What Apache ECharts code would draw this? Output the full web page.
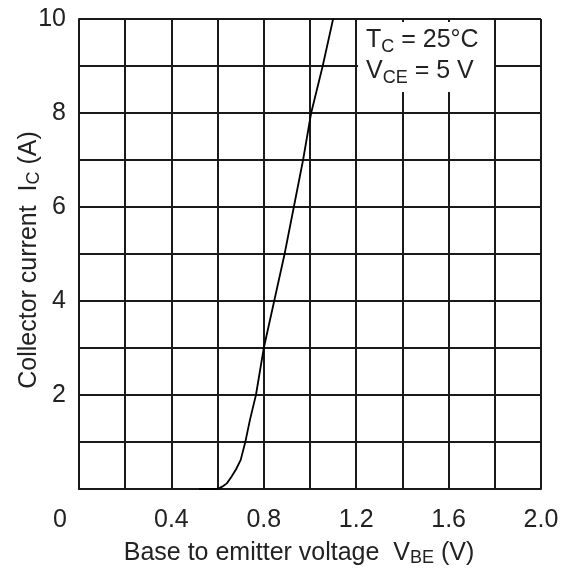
<!DOCTYPE html>
<html>
<head>
<meta charset="utf-8">
<script src="https://cdn.jsdelivr.net/npm/echarts@6/dist/echarts.min.js"></script>
<style>
  html, body { margin: 0; padding: 0; background: #fff; }
  #main { width: 570px; height: 579px; }
</style>
</head>
<body>
<div id="main"></div>
<script>
// VBE (V) vs IC (A)
var vbe = [0.52, 0.60, 0.62, 0.64, 0.66, 0.68, 0.70, 0.72, 0.74, 0.766, 0.80, 0.845, 0.89, 0.93, 0.97, 1.005, 1.055, 1.10];
var ic  = [0, 0, 0.05, 0.12, 0.26, 0.42, 0.62, 1.0, 1.47, 2.0, 3.0, 4.0, 5.0, 6.0, 7.0, 8.0, 9.0, 10.0];

var xTicks = ['0', '0.4', '0.8', '1.2', '1.6', '2.0'];
var yTicks = ['2', '4', '6', '8', '10'];

var pts = [];
for (var i = 0; i < vbe.length; i++) {
  pts.push([vbe[i], ic[i]]);
}

var font = 'Liberation Sans, Arial, sans-serif';
var fs = 25;
var sub = 18;
var ink = '#1a1a1a';
var txt = '#222';

var chart = echarts.init(document.getElementById('main'));

chart.setOption({
  animation: false,
  grid: { left: 79, right: 29, top: 19, bottom: 90, outerBoundsMode: 'none', containLabel: false },
  xAxis: {
    type: 'value',
    min: 0, max: 2, interval: 0.2,
    axisLine: { show: true, lineStyle: { color: ink, width: 2 } },
    axisTick: { show: false },
    splitLine: { show: true, lineStyle: { color: ink, width: 2 } },
    axisLabel: {
      margin: 19,
      color: txt,
      fontFamily: font,
      fontSize: fs,
      formatter: function (v) {
        var s = v.toFixed(1);
        if (v === 0) return '{z|0}';
        return xTicks.indexOf(s) >= 0 ? s : '';
      },
      rich: {
        z: { fontFamily: font, fontSize: fs, color: txt, padding: [0, 38, 0, 0] }
      }
    },
    name: 'Base to emitter voltage  V{s|BE} (V)',
    nameLocation: 'middle',
    nameGap: 50,
    nameMoveOverlap: false,
    nameTextStyle: {
      color: txt, fontFamily: font, fontSize: fs,
      padding: [0, 22, 0, 0],
      rich: { s: { fontFamily: font, fontSize: sub, color: txt, verticalAlign: 'bottom', padding: [10, 0, 0, 0] } }
    }
  },
  yAxis: {
    type: 'value',
    min: 0, max: 10, interval: 1,
    axisLine: { show: true, lineStyle: { color: ink, width: 2 } },
    axisTick: { show: false },
    splitLine: { show: true, lineStyle: { color: ink, width: 2 } },
    axisLabel: {
      margin: 13,
      color: txt,
      fontFamily: font,
      fontSize: fs,
      formatter: function (v) {
        var s = String(Math.round(v));
        return yTicks.indexOf(s) >= 0 && Math.abs(v - Math.round(v)) < 1e-6 ? s : '';
      }
    },
    name: 'Collector current  I{s|C} (A)',
    nameLocation: 'middle',
    nameGap: 36,
    nameMoveOverlap: false,
    nameTextStyle: {
      color: txt, fontFamily: font, fontSize: fs,
      padding: [0, 12, 0, 0],
      rich: { s: { fontFamily: font, fontSize: sub, color: txt, verticalAlign: 'bottom', padding: [10, 0, 0, 0] } }
    }
  },
  series: [{
    type: 'line',
    data: pts,
    showSymbol: false,
    lineStyle: { color: '#000', width: 1.8 }
  }],
  graphic: [{
    type: 'rect',
    z: 100,
    shape: { x: 358, y: 22, width: 136, height: 70 },
    style: { fill: '#fff' }
  }, {
    type: 'text',
    z: 101,
    x: 366, y: 25,
    style: {
      text: 'T{s|C} = 25°C\nV{s|CE} = 5 V',
      fontFamily: font, fontSize: fs, fill: txt, lineHeight: 31,
      rich: { s: { fontFamily: font, fontSize: sub, fill: txt, verticalAlign: 'bottom', padding: [12, 0, 0, 0], lineHeight: 31 } }
    }
  }]
});
</script>
</body>
</html>
